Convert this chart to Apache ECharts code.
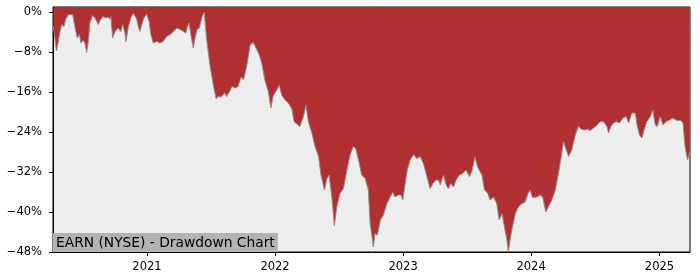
<!DOCTYPE html>
<html>
<head>
<meta charset="utf-8">
<script src="https://cdn.jsdelivr.net/npm/echarts@6/dist/echarts.min.js"></script>
<style>html,body{margin:0;padding:0;background:#fff}#c{width:700px;height:280px}</style>
</head>
<body>
<div id="c"></div>
<script>
const chartTitle = 'EARN (NYSE) - Drawdown Chart';
const yearTicks = ['2021', '2022', '2023', '2024', '2025'];
const yTicks = [0, -8, -16, -24, -32, -40, -48];
const xStart = '2020-04-08';
const xEnd = '2025-03-29';
const dates = [
'2020-04-09','2020-04-18','2020-04-23','2020-04-28','2020-05-03','2020-05-09','2020-05-14','2020-05-22','2020-05-26','2020-06-03',
'2020-06-07','2020-06-11','2020-06-16','2020-06-22','2020-06-27','2020-07-03','2020-07-08','2020-07-13','2020-07-18','2020-07-22',
'2020-07-30','2020-08-06','2020-08-15','2020-08-20','2020-08-29','2020-09-06','2020-09-13','2020-09-17','2020-09-20','2020-09-25',
'2020-10-02','2020-10-11','2020-10-18','2020-10-24','2020-10-30','2020-11-02','2020-11-09','2020-11-16','2020-11-23','2020-11-28',
'2020-12-03','2020-12-07','2020-12-12','2020-12-17','2020-12-23','2020-12-31','2021-01-07','2021-01-12','2021-01-19','2021-01-29',
'2021-02-07','2021-02-16','2021-02-26','2021-03-08','2021-03-17','2021-03-27','2021-04-05','2021-04-15','2021-04-22','2021-04-26',
'2021-05-01','2021-05-06','2021-05-13','2021-05-18','2021-05-24','2021-05-30','2021-06-06','2021-06-13','2021-06-20','2021-06-30',
'2021-07-09','2021-07-17','2021-07-23','2021-07-30','2021-08-05','2021-08-11','2021-08-16','2021-08-21','2021-08-26','2021-08-31',
'2021-09-04','2021-09-09','2021-09-18','2021-09-26','2021-10-03','2021-10-12','2021-10-22','2021-10-31','2021-11-08','2021-11-17',
'2021-11-24','2021-12-04','2021-12-08','2021-12-13','2021-12-20','2021-12-27','2022-01-06','2022-01-13','2022-01-20','2022-01-30',
'2022-02-08','2022-02-18','2022-02-24','2022-03-04','2022-03-13','2022-03-18','2022-03-23','2022-03-30','2022-04-06','2022-04-16',
'2022-04-25','2022-05-05','2022-05-12','2022-05-22','2022-05-29','2022-06-04','2022-06-09','2022-06-13','2022-06-19','2022-06-26',
'2022-07-05','2022-07-15','2022-07-25','2022-08-03','2022-08-12','2022-08-19','2022-08-27','2022-09-05','2022-09-15','2022-09-24',
'2022-09-29','2022-10-04','2022-10-08','2022-10-13','2022-10-20','2022-10-28','2022-11-06','2022-11-16','2022-11-25','2022-12-03',
'2022-12-09','2022-12-19','2022-12-26','2022-12-31','2023-01-07','2023-01-13','2023-01-21','2023-01-31','2023-02-09','2023-02-19',
'2023-02-28','2023-03-10','2023-03-19','2023-03-27','2023-04-05','2023-04-12','2023-04-17','2023-04-26','2023-05-04','2023-05-10',
'2023-05-17','2023-05-25','2023-06-01','2023-06-11','2023-06-20','2023-06-30','2023-07-09','2023-07-16','2023-07-25','2023-08-01',
'2023-08-09','2023-08-14','2023-08-21','2023-08-31','2023-09-06','2023-09-16','2023-09-25','2023-10-02','2023-10-10','2023-10-17',
'2023-10-24','2023-10-28','2023-11-02','2023-11-07','2023-11-17','2023-11-26','2023-12-06','2023-12-15','2023-12-23','2023-12-29',
'2024-01-05','2024-01-17','2024-01-27','2024-02-03','2024-02-12','2024-02-19','2024-02-29','2024-03-10','2024-03-19','2024-03-27',
'2024-04-02','2024-04-09','2024-04-17','2024-04-26','2024-05-06','2024-05-15','2024-05-25','2024-06-03','2024-06-09','2024-06-17',
'2024-06-27','2024-07-07','2024-07-16','2024-07-25','2024-08-04','2024-08-09','2024-08-15','2024-08-23','2024-08-31','2024-09-09',
'2024-09-19','2024-09-28','2024-10-05','2024-10-14','2024-10-24','2024-10-29','2024-11-05','2024-11-12','2024-11-18','2024-11-26',
'2024-12-06','2024-12-13','2024-12-20','2024-12-26','2025-01-03','2025-01-11','2025-01-20','2025-01-30','2025-02-08','2025-02-20',
'2025-03-03','2025-03-09','2025-03-15','2025-03-22','2025-03-28'
];
const drawdown = [
-2.9,-7.8,-5.9,-3.9,-2.5,-2.9,-1.5,-0.5,-0.2,-0.5,
-0.3,-3.5,-5.2,-4.5,-6.2,-5.6,-6.2,-8.1,-5.6,-2.2,
-0.7,-1.2,-2.5,-1.7,-0.9,-1.2,-1.0,-1.5,-0.9,-5.2,
-3.9,-3.2,-3.9,-2.5,-4.2,-5.9,-2.9,-1.2,-0.2,0,
-1.5,-2.9,-3.9,-2.5,-1.2,-0.5,-1.9,-4.5,-6.2,-5.9,
-6.2,-5.9,-4.9,-4.5,-3.9,-3.2,-3.5,-3.9,-4.2,-2.9,
-2.2,-4.5,-7.2,-5.2,-3.5,-3.2,-1.2,0,-5.5,-10.9,
-14.6,-17.3,-16.9,-17.0,-16.6,-16.2,-16.9,-16.9,-15.7,-14.9,
-15.3,-15.2,-14.9,-13.0,-13.6,-10.9,-6.6,-6.1,-7.2,-8.6,
-10.2,-13.9,-14.2,-15.9,-19.2,-16.7,-15.6,-14.6,-16.6,-17.6,
-18.2,-19.4,-21.9,-22.4,-22.9,-23.2,-20.9,-18.6,-21.9,-24.2,
-26.9,-28.9,-32.6,-35.6,-33.3,-32.6,-33.0,-37.6,-42.8,-39.0,
-36.3,-35.3,-31.6,-28.6,-26.9,-27.3,-29.6,-32.6,-33.3,-35.6,
-42.3,-44.6,-47.0,-44.3,-44.6,-41.6,-40.6,-38.3,-37.0,-36.0,
-37.0,-36.6,-36.6,-37.6,-34.3,-31.6,-29.6,-28.5,-29.3,-28.9,
-30.3,-32.9,-35.3,-34.3,-33.6,-33.6,-34.6,-32.6,-34.6,-35.3,
-34.3,-35.0,-33.6,-32.6,-32.3,-31.6,-32.9,-31.9,-29.0,-30.9,
-32.0,-32.6,-35.6,-36.3,-37.6,-37.0,-38.3,-41.6,-40.3,-43.0,
-45.6,-48.0,-45.6,-43.6,-40.3,-39.0,-38.3,-38.0,-36.3,-35.6,
-37.1,-37.0,-36.6,-37.0,-40.0,-39.0,-37.6,-35.6,-32.3,-28.9,
-25.9,-27.3,-28.9,-27.6,-24.6,-22.9,-23.5,-23.6,-23.4,-23.7,
-23.2,-22.6,-21.9,-21.9,-22.9,-24.2,-22.9,-22.2,-21.9,-22.2,
-21.2,-20.9,-22.2,-20.2,-20.2,-22.6,-24.6,-25.2,-23.6,-21.9,
-20.9,-19.6,-22.6,-22.9,-20.9,-22.6,-21.9,-21.6,-21.2,-21.7,
-21.7,-22.2,-26.9,-29.6,-27.9
];

const toTs = s => { const p = s.split('-').map(Number); return Date.UTC(p[0], (p[1] || 1) - 1, p[2] || 1); };
const seriesData = dates.map((d, i) => [toTs(d), drawdown[i]]);
const yearValues = yearTicks.map(y => Date.UTC(+y, 0, 1));

const chart = echarts.init(document.getElementById('c'), null, {renderer: 'canvas'});
chart.setOption({
  animation: false,
  title: {
    text: chartTitle,
    left: 53, top: 233,
    padding: [3, 3, 2, 3],
    backgroundColor: '#b3b3b3',
    textStyle: {fontFamily: 'DejaVu Sans', fontSize: 13.8, fontWeight: 'normal', color: '#000', lineHeight: 14}
  },
  grid: {
    left: 53, right: 10, top: 7, bottom: 28,
    show: true, backgroundColor: '#eeeeee', borderColor: '#000', borderWidth: 1
  },
  xAxis: {
    type: 'value',
    min: toTs(xStart), max: toTs(xEnd),
    axisLine: {show: true, onZero: false, lineStyle: {color: '#000', width: 1}},
    axisTick: {show: true, length: 4, customValues: yearValues, lineStyle: {color: '#000'}},
    axisLabel: {
      customValues: yearValues, margin: 9, color: '#000',
      fontFamily: 'DejaVu Sans', fontSize: 11.5,
      formatter: v => String(new Date(v).getUTCFullYear())
    },
    splitLine: {show: false}
  },
  yAxis: {
    type: 'value',
    min: -48, max: 1, interval: 8,
    axisLine: {show: true, lineStyle: {color: '#000', width: 1}},
    axisTick: {show: true, length: 4, customValues: yTicks, lineStyle: {color: '#000'}},
    axisLabel: {
      customValues: yTicks, margin: 11, color: '#000',
      fontFamily: 'DejaVu Sans', fontSize: 11.5,
      formatter: v => (v < 0 ? '\u2212' : '') + Math.abs(v) + '%'
    },
    splitLine: {show: false}
  },
  series: [{
    type: 'line',
    data: seriesData,
    showSymbol: false,
    symbol: 'none',
    lineStyle: {color: '#8c8c8c', width: 1},
    areaStyle: {color: '#b03031', opacity: 1, origin: 'end'},
    z: 2
  }]
});
</script>
</body>
</html>
